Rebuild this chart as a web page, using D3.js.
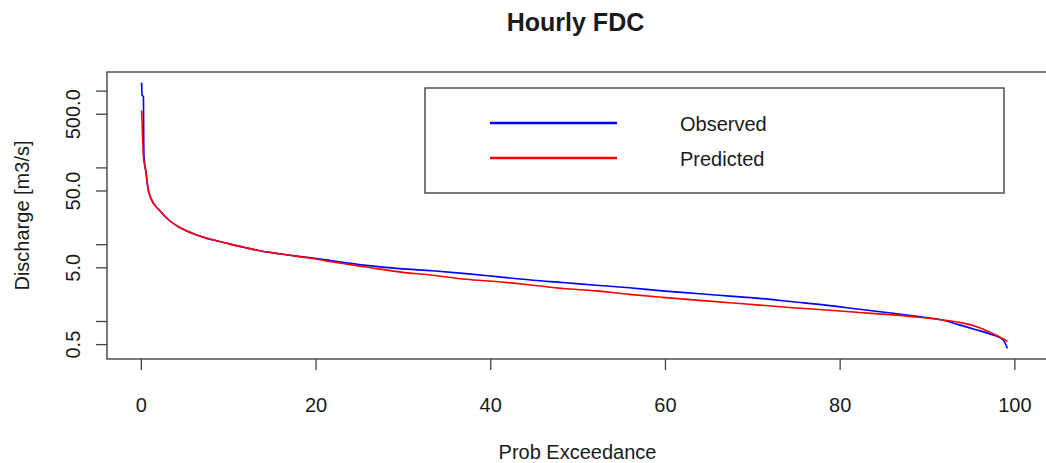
<!DOCTYPE html>
<html>
<head>
    <meta charset="UTF-8">
    <title>Hourly FDC</title>
    <script src="https://d3js.org/d3.v7.min.js"></script>
    <style>
        body { margin: 0; background: #ffffff; }
        text { font-family: "Liberation Sans", Arial, sans-serif; fill: #1a1a1a; }
    </style>
</head>
<body>
<svg width="1046" height="463" id="mainsvg"></svg>
<script>
    // values: exceedance probability (%) and discharge (m3/s)
    const obsProb = [0.09, 0.14, 0.30, 0.33, 0.36, 0.6, 0.8, 1.2, 2.1, 3.3, 4.4, 6.3, 8.2, 10.1, 12.0, 13.9, 15.9, 17.8, 19.7,
        21.8, 25.8, 29.6, 33.4, 37.2, 41.0, 44.9, 48.3, 52.1, 55.9, 59.7, 63.6, 67.4, 70.8, 74.6, 78.4, 82.3, 86.1, 89.1,
        91.8, 93.7, 95.6, 97.5, 98.7, 99.2];
    const obsQ = [1270, 880, 830, 230, 140, 85, 55, 38.6, 27.8, 20.2, 16.6, 13.3, 11.4, 10.1, 9.0, 8.1, 7.5, 7.0, 6.6,
        6.1, 5.3, 4.8, 4.5, 4.14, 3.75, 3.39, 3.17, 2.92, 2.71, 2.47, 2.28, 2.11, 1.97, 1.78, 1.61, 1.42, 1.26, 1.14,
        1.03, 0.89, 0.77, 0.66, 0.57, 0.44];
    const predProb = [0.09, 0.2, 0.29, 0.6, 0.8, 1.2, 2.1, 3.3, 4.4, 6.3, 8.2, 10.1, 12.0, 13.9, 15.9, 17.8, 19.7,
        21.8, 25.8, 29.6, 33.4, 37.2, 41.0, 44.9, 48.3, 52.1, 55.9, 59.7, 63.6, 67.4, 70.8, 74.6, 78.4, 82.3, 86.1, 89.1,
        91.8, 93.7, 95.6, 97.5, 98.9, 99.2];
    const predQ = [552, 250, 140, 85, 55, 38.6, 27.8, 20.2, 16.6, 13.3, 11.4, 10.1, 9.0, 8.1, 7.5, 7.0, 6.5,
        5.9, 5.05, 4.36, 3.94, 3.49, 3.24, 2.92, 2.65, 2.47, 2.22, 2.03, 1.87, 1.73, 1.61, 1.49, 1.39, 1.29, 1.20, 1.12,
        1.03, 0.96, 0.85, 0.69, 0.57, 0.54];
    const seriesNames = ["Observed", "Predicted"];
    const seriesColors = ["#0000ff", "#ff0000"];
    const xTicks = [0, 20, 40, 60, 80, 100];
    const yTicks = [0.5, 1, 5, 10, 50, 100, 500, 1000];
    const yTickLabels = ["0.5", "", "5.0", "", "50.0", "", "500.0", ""];

    const svg = d3.select('#mainsvg');
    const margin = {top: 72, left: 107, bottom: 359, right: 1042};
    const fontSize = '20px';
    const obs = obsProb.map((p, i) => ({p: p, q: obsQ[i]}));
    const pred = predProb.map((p, i) => ({p: p, q: predQ[i]}));
    const all = obs.concat(pred);

    // R style axes: data range padded by 4% on each side
    const xExt = d3.extent(all, d => d.p);
    const xPad = (xExt[1] - xExt[0]) * 0.04;
    const xScale = d3.scaleLinear()
        .domain([xExt[0] - xPad, xExt[1] + xPad])
        .range([margin.left, margin.right]);
    const yExt = d3.extent(all, d => Math.log10(d.q));
    const yPad = (yExt[1] - yExt[0]) * 0.04;
    const yScale = d3.scaleLog()
        .domain([Math.pow(10, yExt[0] - yPad), Math.pow(10, yExt[1] + yPad)])
        .range([margin.bottom, margin.top]);

    // title
    svg.append('text')
        .attr('x', (margin.left + margin.right) / 2 + 1)
        .attr('y', 31)
        .attr('text-anchor', 'middle')
        .style('font-weight', 'bold')
        .style('font-size', '25px')
        .text('Hourly FDC');

    // x axis
    const xAxis = d3.axisBottom(xScale).tickValues(xTicks).tickSize(11).tickPadding(28).tickFormat(d3.format('d'));
    const xg = svg.append('g').attr('transform', `translate(0, ${margin.bottom})`).call(xAxis);
    xg.select('.domain').remove();
    xg.selectAll('line').attr('stroke', '#444').attr('stroke-width', 1.3);
    xg.selectAll('text').style('font-size', fontSize).attr('fill', '#1a1a1a');
    svg.append('text')
        .attr('x', (margin.left + margin.right) / 2 + 3)
        .attr('y', 459)
        .attr('text-anchor', 'middle')
        .style('font-size', fontSize)
        .text('Prob Exceedance');

    // y axis (log)
    const yAxis = d3.axisLeft(yScale).tickValues(yTicks).tickSize(11).tickFormat((d, i) => yTickLabels[i]);
    const yg = svg.append('g').attr('transform', `translate(${margin.left}, 0)`).call(yAxis);
    yg.select('.domain').remove();
    yg.selectAll('line').attr('stroke', '#444').attr('stroke-width', 1.3);
    yg.selectAll('.tick text')
        .attr('x', null).attr('dy', null)
        .attr('text-anchor', 'middle')
        .attr('transform', 'translate(-27, 0) rotate(-90)')
        .style('font-size', fontSize)
        .attr('fill', '#1a1a1a');
    svg.append('text')
        .attr('transform', `translate(29, ${(margin.top + margin.bottom) / 2}) rotate(-90)`)
        .attr('text-anchor', 'middle')
        .style('font-size', fontSize)
        .text('Discharge [m3/s]');

    // lines
    const line = d3.line()
        .x(d => xScale(d.p))
        .y(d => yScale(d.q))
        .curve(d3.curveMonotoneX);
    [obs, pred].forEach((s, i) => {
        svg.append('path')
            .attr('d', line(s))
            .attr('fill', 'none')
            .attr('stroke', seriesColors[i])
            .attr('stroke-width', 1.6);
    });

    // plot frame (runs past the right edge like the reference crop)
    svg.append('rect')
        .attr('x', margin.left).attr('y', margin.top)
        .attr('width', 960).attr('height', margin.bottom - margin.top)
        .attr('fill', 'none').attr('stroke', '#444').attr('stroke-width', 1.4);

    // legend
    const lg = svg.append('g').attr('transform', 'translate(425, 88)');
    lg.append('rect')
        .attr('width', 579).attr('height', 105)
        .attr('fill', '#ffffff').attr('stroke', '#444').attr('stroke-width', 1.4);
    seriesNames.forEach((name, i) => {
        lg.append('line')
            .attr('x1', 65).attr('x2', 192)
            .attr('y1', 35 + i * 35).attr('y2', 35 + i * 35)
            .attr('stroke', seriesColors[i]).attr('stroke-width', 2.5);
        lg.append('text')
            .attr('x', 255).attr('y', 43 + i * 35)
            .style('font-size', fontSize)
            .text(name);
    });
</script>
</body>
</html>
